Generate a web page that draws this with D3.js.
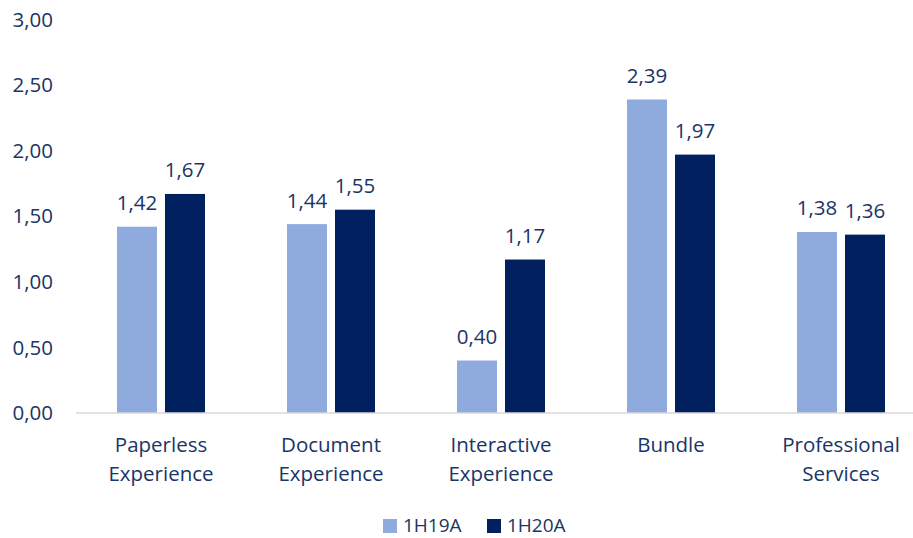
<!DOCTYPE html>
<html>
<head>
<meta charset="utf-8">
<script src="https://cdn.jsdelivr.net/npm/d3@7"></script>
<style>
  body { margin: 0; background: #fff; }
  svg { display: block; font-family: "Open Sans", sans-serif; }
</style>
</head>
<body>
<script>
// data
var categories = [["Paperless", "Experience"], ["Document", "Experience"], ["Interactive", "Experience"], ["Bundle"], ["Professional", "Services"]];
var seriesNames = ["1H19A", "1H20A"];
var values1H19A = [1.42, 1.44, 0.40, 2.39, 1.38];
var values1H20A = [1.67, 1.55, 1.17, 1.97, 1.36];
var yTicks = [0, 0.5, 1, 1.5, 2, 2.5, 3];

var colors = {"1H19A": "#8faadc", "1H20A": "#002060"};
var textColor = "#1a3566";

var width = 913, height = 538;
var fmt = function(v) { return v.toFixed(2).replace(".", ","); };

var svg = d3.select("body").append("svg")
    .attr("width", width)
    .attr("height", height);

var keys = categories.map(function(c) { return c.join(" "); });

var x0 = d3.scaleBand()
    .domain(keys)
    .range([76, 926])
    .padding(0);

var x1 = d3.scaleBand()
    .domain(seriesNames)
    .range([41, 129])
    .paddingInner(1 / 6);

var y = d3.scaleLinear()
    .domain([0, 3])
    .range([413, 19.5]);

var data = keys.map(function(k, i) {
    return {key: k, lines: categories[i], vals: [
        {s: "1H19A", v: values1H19A[i]},
        {s: "1H20A", v: values1H20A[i]}
    ]};
});

// y tick labels
svg.append("g").selectAll("text").data(yTicks).enter()
    .append("text")
    .attr("x", 53)
    .attr("y", function(d) { return y(d); })
    .attr("dy", "0.35em")
    .attr("text-anchor", "end")
    .attr("font-size", 20.5)
    .attr("fill", textColor)
    .text(fmt);

var groups = svg.selectAll("g.grp").data(data).enter()
    .append("g")
    .attr("class", "grp")
    .attr("transform", function(d) { return "translate(" + x0(d.key) + ",0)"; });

groups.selectAll("rect").data(function(d) { return d.vals; }).enter()
    .append("rect")
    .attr("x", function(d) { return x1(d.s); })
    .attr("width", x1.bandwidth())
    .attr("y", function(d) { return y(d.v); })
    .attr("height", function(d) { return y(0) - y(d.v); })
    .attr("fill", function(d) { return colors[d.s]; });

groups.selectAll("text.val").data(function(d) { return d.vals; }).enter()
    .append("text")
    .attr("class", "val")
    .attr("x", function(d) { return x1(d.s) + x1.bandwidth() / 2; })
    .attr("y", function(d) { return y(d.v) - 16.5; })
    .attr("text-anchor", "middle")
    .attr("font-size", 20.5)
    .attr("fill", textColor)
    .text(function(d) { return fmt(d.v); });

// baseline
svg.append("line")
    .attr("x1", 76).attr("x2", width)
    .attr("y1", y(0)).attr("y2", y(0))
    .attr("stroke", "#d9d9d9")
    .attr("stroke-width", 1.5);

// category labels
groups.append("text")
    .attr("text-anchor", "middle")
    .attr("font-size", 20.5)
    .attr("fill", textColor)
    .selectAll("tspan").data(function(d) { return d.lines; }).enter()
    .append("tspan")
    .attr("x", x0.bandwidth() / 2)
    .attr("y", function(d, i) { return 452 + i * 29; })
    .text(function(d) { return d; });

// legend
var legend = svg.append("g");
var legendX = [383, 487];
seriesNames.forEach(function(s, i) {
    legend.append("rect")
        .attr("x", legendX[i]).attr("y", 519)
        .attr("width", 14).attr("height", 14)
        .attr("fill", colors[s]);
    legend.append("text")
        .attr("x", legendX[i] + 20).attr("y", 532)
        .attr("font-size", 19)
        .attr("fill", textColor)
        .text(s);
});
</script>
</body>
</html>
